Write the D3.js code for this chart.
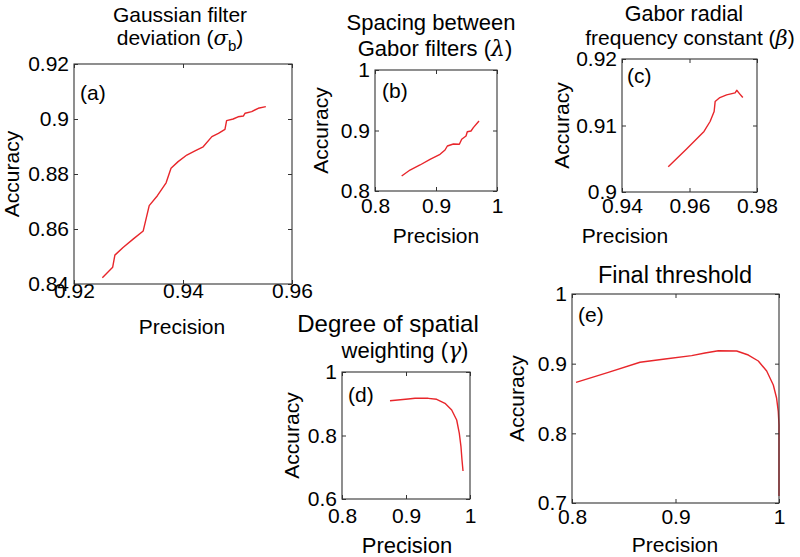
<!DOCTYPE html>
<html><head><meta charset="utf-8">
<script src="https://cdnjs.cloudflare.com/ajax/libs/d3/7.8.5/d3.min.js"></script>
<style>
body{margin:0;background:#fff;}
svg{display:block;font-family:"Liberation Sans",Arial,Helvetica,sans-serif;}
</style></head>
<body><svg id="chart" width="800" height="557"></svg>
<script>
// ---- Data ----
const aPrecision = [0.9252,0.9271,0.9275,0.9290,0.9309,0.9327,0.9338,0.9353,0.9369,0.9378,0.9391,0.9407,0.9422,0.9437,0.9453,0.9465,0.9477,0.9480,0.9492,0.9501,0.9511,0.9514,0.9526,0.9538,0.9552];
const aAccuracy  = [0.8423,0.8461,0.8505,0.8533,0.8564,0.8593,0.8685,0.8721,0.8768,0.8821,0.8845,0.8869,0.8884,0.8899,0.8936,0.8948,0.8962,0.8994,0.9000,0.9008,0.9011,0.9021,0.9027,0.9039,0.9045];

const bPrecision = [0.8437,0.8574,0.8738,0.8902,0.9066,0.9148,0.9186,0.9285,0.9383,0.9421,0.9492,0.9513,0.9574,0.9612,0.9705];
const bAccuracy  = [0.8248,0.8347,0.8430,0.8524,0.8607,0.8678,0.8744,0.8777,0.8772,0.8855,0.8909,0.8980,0.8992,0.9047,0.9157];

const cPrecision = [0.9537,0.9592,0.9643,0.9661,0.9673,0.9676,0.9690,0.9710,0.9735,0.9740,0.9748,0.9758];
const cAccuracy  = [0.9038,0.9065,0.9091,0.9106,0.9121,0.9136,0.9142,0.9146,0.9149,0.9153,0.9148,0.9142];

const dPrecision = [0.875,0.9033,0.9141,0.9348,0.9479,0.9609,0.9714,0.9792,0.9833,0.9859,0.9875,0.9891];
const dAccuracy  = [0.9096,0.9150,0.9171,0.9171,0.9140,0.9013,0.8803,0.8488,0.8069,0.7647,0.7228,0.6882];

const ePrecision = [0.8039,0.8351,0.8657,0.8899,0.9156,0.9285,0.9414,0.9591,0.9704,0.9800,0.9881,0.9945,0.9977,0.9993,1.0,1.0];
const eAccuracy  = [0.8732,0.8876,0.9020,0.9067,0.9115,0.9153,0.9186,0.9182,0.9124,0.9038,0.8895,0.8694,0.8503,0.8311,0.8120,0.7100];

const aXTicks = [0.92,0.94,0.96], aYTicks = [0.84,0.86,0.88,0.9,0.92];
const bXTicks = [0.8,0.9,1],      bYTicks = [0.8,0.9,1];
const cXTicks = [0.94,0.96,0.98], cYTicks = [0.9,0.91,0.92];
const dXTicks = [0.8,0.9,1],      dYTicks = [0.6,0.8,1];
const eXTicks = [0.8,0.9,1],      eYTicks = [0.7,0.8,0.9,1];

const panelLabels = ["(a)","(b)","(c)","(d)","(e)"];
const xLabel = "Precision", yLabel = "Accuracy";

// ---- Layout ----
const panels = [
  {px:aPrecision, py:aAccuracy, xt:aXTicks, yt:aYTicks, box:[74,292,64,284], xtb:298,
   lab:[80,100], ylab:19, xlab:[182,334], xlfs:21,
   title:[{x:180,y:22,fs:21,parts:[["Gaussian filter"]]},
          {x:180,y:45,fs:21,parts:[["deviation ("],["σ","it"],["b","sub"],[")"]]}]},
  {px:bPrecision, py:bAccuracy, xt:bXTicks, yt:bYTicks, box:[375,497,70,191], xtb:213,
   lab:[382,98], ylab:328, xlab:[436,243], xlfs:21,
   title:[{x:431,y:30,fs:22,parts:[["Spacing between"]]},
          {x:435,y:56,fs:22,parts:[["Gabor filters ("],["λ","it"],[")"]]}]},
  {px:cPrecision, py:cAccuracy, xt:cXTicks, yt:cYTicks, box:[622,757,59,192], xtb:213,
   lab:[627,83], ylab:569, xlab:[625,243], xlfs:21,
   title:[{x:684,y:21,fs:21.5,parts:[["Gabor radial"]]},
          {x:690,y:45,fs:21,parts:[["frequency constant ("],["β","it"],[")"]]}]},
  {px:dPrecision, py:dAccuracy, xt:dXTicks, yt:dYTicks, box:[342,470,372,499], xtb:523,
   lab:[348,402], ylab:299, xlab:[407,553], xlfs:22,
   title:[{x:388,y:332,fs:24,parts:[["Degree of spatial"]]},
          {x:405,y:358,fs:22,parts:[["weighting ("],["γ","it"],[")"]]}]},
  {px:ePrecision, py:eAccuracy, xt:eXTicks, yt:eYTicks, box:[572,779,294,503], xtb:524,
   lab:[578,322], ylab:524, xlab:[675,552], xlfs:21,
   title:[{x:675,y:283,fs:23.5,parts:[["Final threshold"]]}]}
];

const svg = d3.select("#chart");
const fmt = v => String(+v.toFixed(3));
const TICK = 4;

panels.forEach((p,i) => {
  const [x0,x1,y0,y1] = p.box;
  const xs = d3.scaleLinear().domain([p.xt[0], p.xt[p.xt.length-1]]).range([x0,x1]);
  const ys = d3.scaleLinear().domain([p.yt[0], p.yt[p.yt.length-1]]).range([y1,y0]);
  const g = svg.append("g");

  // curve
  const pts = p.px.map((v,k)=>[v,p.py[k]]);
  g.append("path").datum(pts)
    .attr("d", d3.line().x(d=>xs(d[0])).y(d=>ys(d[1])))
    .attr("fill","none").attr("stroke","#e8262b").attr("stroke-width",1.4)
    .attr("stroke-linejoin","round");

  // axes (ticks inward, labels outside)
  const bottom = g.append("g").attr("transform",`translate(0,${y1})`)
    .call(d3.axisBottom(xs).tickValues(p.xt).tickFormat(fmt).tickSizeInner(-TICK).tickSizeOuter(0));
  const top = g.append("g").attr("transform",`translate(0,${y0})`)
    .call(d3.axisTop(xs).tickValues(p.xt).tickFormat("").tickSizeInner(-TICK).tickSizeOuter(0));
  const left = g.append("g").attr("transform",`translate(${x0},0)`)
    .call(d3.axisLeft(ys).tickValues(p.yt).tickFormat(fmt).tickSizeInner(-TICK).tickSizeOuter(0).tickPadding(5));
  const right = g.append("g").attr("transform",`translate(${x1},0)`)
    .call(d3.axisRight(ys).tickValues(p.yt).tickFormat("").tickSizeInner(-TICK).tickSizeOuter(0));
  [bottom,top,left,right].forEach(a=>{
    a.select(".domain").remove();
    a.selectAll(".tick line").attr("stroke","#333");
    a.selectAll("text").attr("fill","#000").style("font-size","21px").style("font-family","inherit");
  });
  bottom.selectAll(".tick text").attr("dy",null).attr("y",p.xtb - y1);
  // frame
  g.append("rect").attr("x",x0).attr("y",y0).attr("width",x1-x0).attr("height",y1-y0)
    .attr("fill","none").attr("stroke","#333").attr("stroke-width",1.1);

  // panel label
  g.append("text").attr("x",p.lab[0]).attr("y",p.lab[1]).text(panelLabels[i])
    .style("font-size","21px").attr("fill","#000");
  // axis labels
  g.append("text").attr("x",p.xlab[0]).attr("y",p.xlab[1]).attr("text-anchor","middle")
    .style("font-size",p.xlfs+"px").text(xLabel);
  g.append("text").attr("transform",`translate(${p.ylab},${(y0+y1)/2}) rotate(-90)`)
    .attr("text-anchor","middle").style("font-size","21px").text(yLabel);
  // title
  p.title.forEach(line=>{
    const t = g.append("text").attr("x",line.x).attr("y",line.y).attr("text-anchor","middle")
      .style("font-size",line.fs+"px");
    line.parts.forEach(([s,kind])=>{
      const ts = t.append("tspan").text(s);
      if(kind==="it") ts.style("font-style","italic").style("font-family","'DejaVu Serif',serif");
      if(kind==="sub") ts.attr("dy",6).style("font-size","15px");
      if(kind===undefined && line.parts.some(q=>q[1]==="sub") && s===")") ts.attr("dy",-6);
    });
  });
});
</script></body></html>
